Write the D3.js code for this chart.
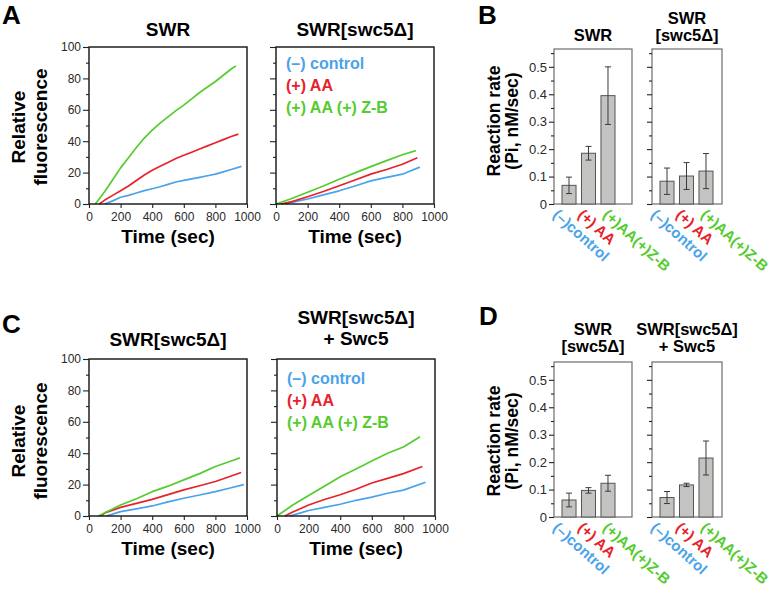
<!DOCTYPE html>
<html>
<head>
<meta charset="utf-8">
<script src="https://cdn.jsdelivr.net/npm/d3@7"></script>
<style>
  body { margin: 0; background: #fff; }
  text { font-family: "Liberation Sans", Arial, Helvetica, sans-serif; }
</style>
</head>
<body>
<script>
//size of the whole figure
var w = 777;
var h = 591;

//tick values
var timeTicks = [0, 200, 400, 600, 800, 1000];
var fluorTicks = [0, 20, 40, 60, 80, 100];
var rateTicks = [0, 0.1, 0.2, 0.3, 0.4, 0.5];

//conditions
var legendLabels = ["(\u2013) control", "(+) AA", "(+) AA (+) Z-B"];
var conditions = ["(\u2013)control", "(+) AA", "(+)AA(+)Z-B"];
var colors = ["#4aa3ea", "#e8222c", "#55cc2e"];

//A, SWR: [time (sec), relative fluorescence]
var aSwrCtl = [[100,0],[150,2],[200,4.3],[250,5.5],[300,7],[350,8.5],[400,9.7],[450,11],[500,12.5],[550,14],[600,15],[650,16],[700,17],[750,18],[800,19],[850,20.5],[900,22],[965,24]];
var aSwrAA = [[65,0],[100,2.5],[150,5.5],[200,8.5],[250,11.5],[300,15],[350,18.5],[400,21.5],[450,24],[500,26.5],[550,29],[600,31],[650,33],[700,35],[750,37],[800,39],[850,41],[900,43],[945,44.5]];
var aSwrZB = [[40,0],[100,8],[150,15.5],[200,23],[250,29.5],[300,36],[350,42],[400,47],[450,51.5],[500,55.5],[550,59.5],[600,63],[650,67],[700,71],[750,74.5],[800,78],[850,82],[900,86],[930,88]];

//A, SWR[swc5 delta]
var aDelCtl = [[60,0],[100,1],[200,3.2],[300,5.8],[400,8.4],[500,11.5],[600,14.7],[700,17],[800,19],[910,23.5]];
var aDelAA = [[30,0],[100,1.5],[200,4.6],[300,8],[400,11.6],[500,15.3],[600,19],[700,22],[800,25.3],[895,29.5]];
var aDelZB = [[0,0],[100,3.5],[200,7.5],[300,11.5],[400,15.8],[500,19.8],[600,23.8],[700,27.6],[800,31.4],[885,34]];

//C, SWR[swc5 delta]
var cDelCtl = [[110,0],[200,2.8],[300,4.5],[400,6.4],[500,9],[600,11.3],[700,13.4],[800,15.5],[900,18],[980,20]];
var cDelAA = [[80,0],[100,2],[200,5.5],[300,8],[400,10.6],[500,13.6],[600,16.6],[700,19.3],[800,22],[900,25.5],[963,27.7]];
var cDelZB = [[60,0],[100,2],[200,7],[300,11],[400,15.5],[500,19],[600,23],[700,27],[800,31.5],[900,35],[955,37]];

//C, SWR[swc5 delta] + Swc5
var cAddCtl = [[80,0],[150,2],[200,3.5],[300,5.5],[400,7.5],[500,10],[600,12],[700,14.5],[800,16.5],[940,21.5]];
var cAddAA = [[50,0],[100,2.5],[200,7],[300,10.5],[400,13.5],[500,17],[600,21],[700,24],[800,27],[920,31.5]];
var cAddZB = [[0,0],[100,7],[200,13],[300,19],[400,25],[500,30],[600,35],[700,40],[800,44],[905,50.5]];

//B and D, reaction rates (Pi, nM/sec) and error
var bSwrRate = [0.068, 0.185, 0.395];
var bSwrErr = [0.03, 0.025, 0.105];
var bDelRate = [0.083, 0.102, 0.12];
var bDelErr = [0.048, 0.049, 0.064];
var dDelRate = [0.062, 0.097, 0.123];
var dDelErr = [0.025, 0.01, 0.029];
var dAddRate = [0.071, 0.117, 0.215];
var dAddErr = [0.022, 0.006, 0.062];

var svg = d3.select("body")
    .append("svg")
    .attr("width", w)
    .attr("height", h);

//panel letters
function letter(t, x, y) {
    svg.append("text")
        .attr("x", x)
        .attr("y", y)
        .attr("font-size", 26)
        .attr("font-weight", "bold")
        .text(t);
}

//bold label, several lines, centered
function label(lines, x, y, size, step, rotate) {
    var t = svg.append("text")
        .attr("font-size", size)
        .attr("font-weight", "bold")
        .attr("text-anchor", "middle");
    if (rotate) {
        t.attr("transform", "translate(" + x + "," + y + ") rotate(-90)");
        lines.forEach(function(l, i) {
            t.append("tspan").attr("x", 0).attr("y", i * step).text(l);
        });
    } else {
        lines.forEach(function(l, i) {
            t.append("tspan").attr("x", x).attr("y", y + i * step).text(l);
        });
    }
}

//time course panel
function linePanel(left, top, series, title, titleY, showY, legendY) {
    var pw = 158, ph = 157;
    var x = d3.scaleLinear().domain([0, 1000]).range([left, left + pw]);
    var y = d3.scaleLinear().domain([0, 100]).range([top + ph, top]);

    var line = d3.line()
        .x(function(d) { return x(d[0]); })
        .y(function(d) { return y(d[1]); });

    series.forEach(function(s, i) {
        svg.append("path")
            .datum(s)
            .attr("fill", "none")
            .attr("stroke", colors[i])
            .attr("stroke-width", 1.7)
            .attr("stroke-linejoin", "round")
            .attr("d", line);
    });

    svg.append("rect")
        .attr("x", left)
        .attr("y", top)
        .attr("width", pw)
        .attr("height", ph)
        .attr("fill", "none")
        .attr("stroke", "#111")
        .attr("stroke-width", 1.4);

    //minor y ticks
    svg.append("g")
        .attr("transform", "translate(" + left + ",0)")
        .call(d3.axisLeft(y).tickValues([10, 30, 50, 70, 90]).tickSize(3).tickFormat(""));

    //major y ticks
    svg.append("g")
        .attr("class", "tk")
        .attr("transform", "translate(" + left + ",0)")
        .call(d3.axisLeft(y).tickValues(fluorTicks).tickSize(6).tickPadding(2)
            .tickFormat(showY ? d3.format("d") : ""));

    //x axis
    svg.append("g")
        .attr("class", "tk")
        .attr("transform", "translate(0," + (top + ph) + ")")
        .call(d3.axisBottom(x).tickValues(timeTicks).tickSize(4).tickPadding(4).tickFormat(d3.format("d")));

    label(["Time (sec)"], left + pw / 2, top + ph + 39, 19, 0, false);
    label(title, left + pw / 2, titleY, 19, 21, false);

    if (legendY) {
        legendLabels.forEach(function(l, i) {
            svg.append("text")
                .attr("x", left + 10)
                .attr("y", top + legendY + i * 22)
                .attr("font-size", 16)
                .attr("font-weight", "bold")
                .attr("fill", colors[i])
                .text(l);
        });
    }
}

//reaction rate panel
function barPanel(left, top, pw, rates, errs, title, titleY, showY) {
    var ph = 155;
    var y = d3.scaleLinear().domain([0, 0.565]).range([top + ph, top]);
    var x = d3.scaleBand().domain(conditions).range([left + 8, left + 61]).paddingInner(0.28);
    //start points of the slanted category labels
    var lx = d3.scalePoint().domain(conditions).range([left - 2, left + 48]);

    svg.append("rect")
        .attr("x", left)
        .attr("y", top)
        .attr("width", pw)
        .attr("height", ph)
        .attr("fill", "none")
        .attr("stroke", "#6d6d6d")
        .attr("stroke-width", 1.2);

    svg.selectAll(null)
        .data(rates)
        .enter()
        .append("rect")
        .attr("x", function(d, i) { return x(conditions[i]); })
        .attr("y", function(d) { return y(d); })
        .attr("width", x.bandwidth())
        .attr("height", function(d) { return y(0) - y(d); })
        .attr("fill", "#c3c3c1")
        .attr("stroke", "#555")
        .attr("stroke-width", 1);

    //error bars
    rates.forEach(function(r, i) {
        var cx = x(conditions[i]) + x.bandwidth() / 2;
        var g = svg.append("g").attr("stroke", "#3a3a3a").attr("stroke-width", 1);
        g.append("line").attr("x1", cx).attr("x2", cx).attr("y1", y(r - errs[i])).attr("y2", y(r + errs[i]));
        g.append("line").attr("x1", cx - 3).attr("x2", cx + 3).attr("y1", y(r - errs[i])).attr("y2", y(r - errs[i]));
        g.append("line").attr("x1", cx - 3).attr("x2", cx + 3).attr("y1", y(r + errs[i])).attr("y2", y(r + errs[i]));
    });

    svg.append("g")
        .attr("transform", "translate(" + left + ",0)")
        .call(d3.axisLeft(y).tickValues([0.05, 0.15, 0.25, 0.35, 0.45, 0.55]).tickSize(3).tickFormat(""));

    svg.append("g")
        .attr("class", "tk rt")
        .attr("transform", "translate(" + left + ",0)")
        .call(d3.axisLeft(y).tickValues(rateTicks).tickSize(5).tickPadding(2)
            .tickFormat(showY ? function(d) { return d === 0 ? "0" : d3.format(".1f")(d); } : ""));

    //slanted category labels
    conditions.forEach(function(c, i) {
        svg.append("text")
            .attr("transform", "translate(" + lx(c) + "," + (top + ph + 12) + ") rotate(42)")
            .attr("font-size", 15)
            .attr("font-weight", "bold")
            .attr("fill", colors[i])
            .text(c);
    });

    label(title, left + pw / 2, titleY, 16.5, 17, false);
}

//A
letter("A", 2, 24);
label(["Relative", "fluorescence"], 25, 127, 19, 22, true);
linePanel(89, 47, [aSwrCtl, aSwrAA, aSwrZB], ["SWR"], 36, true, 0);
linePanel(276, 47, [aDelCtl, aDelAA, aDelZB], ["SWR[swc5\u0394]"], 36, false, 22);

//B
letter("B", 478, 24);
label(["Reaction rate", "(Pi, nM/sec)"], 500, 121, 17.5, 18, true);
barPanel(554, 49, 78, bSwrRate, bSwrErr, ["SWR"], 41, true);
barPanel(652, 49, 70, bDelRate, bDelErr, ["SWR", "[swc5\u0394]"], 24, false);

//C
letter("C", 2, 333);
label(["Relative", "fluorescence"], 25, 441, 19, 22, true);
linePanel(89, 359, [cDelCtl, cDelAA, cDelZB], ["SWR[swc5\u0394]"], 346, true, 0);
linePanel(277, 359, [cAddCtl, cAddAA, cAddZB], ["SWR[swc5\u0394]", "+ Swc5"], 324, false, 25);

//D
letter("D", 479, 325);
label(["Reaction rate", "(Pi, nM/sec)"], 500, 441, 17.5, 18, true);
barPanel(554, 362, 78, dDelRate, dDelErr, ["SWR", "[swc5\u0394]"], 335, true);
barPanel(652, 362, 70, dAddRate, dAddErr, ["SWR[swc5\u0394]", "+ Swc5"], 335, false);

//axis styling
svg.selectAll(".domain").remove();
svg.selectAll(".tick line").attr("stroke", "#222").attr("stroke-width", 1.1);
svg.selectAll(".tk text")
    .attr("font-size", 12)
    .attr("font-family", "'Liberation Sans', Arial, sans-serif")
    .attr("fill", "#2a2a2a");
svg.selectAll(".rt text").attr("font-size", 13);
</script>
</body>
</html>
